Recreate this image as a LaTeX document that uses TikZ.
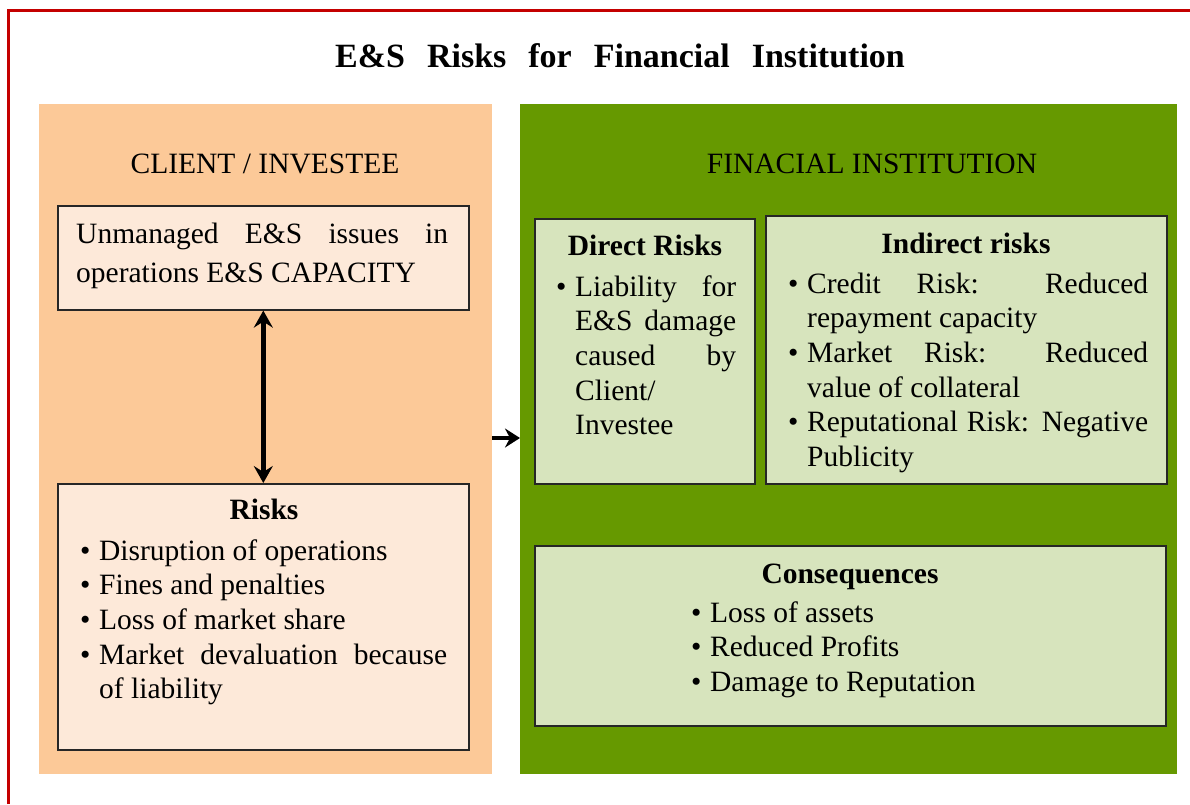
\documentclass[tikz,border=0pt]{standalone}
\usepackage{fontspec}
\setmainfont{Liberation Serif}
\usepackage{xcolor}
\definecolor{peach}{RGB}{252,201,152}
\definecolor{lpeach}{RGB}{253,233,217}
\definecolor{olive}{RGB}{102,153,0}
\definecolor{lolive}{RGB}{215,228,189}
\definecolor{dred}{RGB}{196,0,0}
\usetikzlibrary{arrows.meta}

\newcommand{\bodyfont}{\fontsize{29.5}{34.7}\selectfont\hyphenpenalty=10000 \tolerance=9999 }
\newcommand{\widefont}{\fontsize{29.5}{39}\selectfont\hyphenpenalty=10000 \tolerance=9999 }
\newcommand{\bitem}{\par\noindent\hangindent=19pt\hangafter=1\makebox[19pt][l]{\textbullet}}

\begin{document}
\begin{tikzpicture}[x=1pt,y=-1pt,
  panel/.style={rectangle,inner sep=0,anchor=north west},
  ibox/.style={rectangle,draw=black!85,line width=1.6pt,inner sep=0,anchor=north west},
  sec/.style={anchor=base,inner sep=0,font=\bodyfont},
  head/.style={anchor=base,inner sep=0,font=\bodyfont\bfseries},
  blist/.style={anchor=base west,inner sep=0,font=\bodyfont},
  arrow/.style={line width=4.5pt,-{Stealth[length=15pt,width=19pt,inset=5pt]}},
  dblarrow/.style={line width=4.5pt,
    {Stealth[length=17pt,width=19pt,inset=6pt]}-{Stealth[length=17pt,width=19pt,inset=6pt]}}
]
  \useasboundingbox (0,0) rectangle (1190,804);
  \fill[white] (0,0) rectangle (1190,804);
  % frame
  \draw[dred,line width=3pt] (8,804) -- (8,10) -- (1190,10);

  % title
  \node[anchor=base,inner sep=0,font=\fontsize{34}{40}\selectfont\bfseries] (title) at (620,67)
    {\spaceskip=22pt E\&S Risks for Financial Institution};

  % the two sides
  \node[panel,fill=peach,minimum width=453pt,minimum height=670pt] (client) at (39,104) {};
  \node[panel,fill=olive,minimum width=657pt,minimum height=670pt] (fi) at (520,104) {};
  \node[sec] (clientHead) at (265,173) {CLIENT / INVESTEE};
  \node[sec] (fiHead) at (872,173) {FINACIAL INSTITUTION};

  % client side
  \node[ibox,fill=lpeach,minimum width=411pt,minimum height=104pt] (issues) at (57,205) {};
  \node[blist,font=\widefont] (issuesText) at (76,243)
    {\parbox[t]{372pt}{Unmanaged E\&S issues in\linebreak operations E\&S CAPACITY}};
  \node[ibox,fill=lpeach,minimum width=411pt,minimum height=266pt] (risks) at (57,483) {};
  \node[head] (riskHead) at (264,519) {Risks};
  \node[blist] (riskList) at (80,560)
    {\parbox[t]{367pt}{\bitem Disruption of operations
     \bitem Fines and penalties
     \bitem Loss of market share
     \bitem Market devaluation because of liability}};
  \draw[dblarrow] (issues.south) -- (risks.north);

  % financial institution side
  \node[ibox,fill=lolive,minimum width=220pt,minimum height=265pt] (direct) at (534,218) {};
  \node[head] (directHead) at (645,255) {Direct Risks};
  \node[blist] (directList) at (556,296)
    {\parbox[t]{180pt}{\bitem Liability for E\&S damage caused by\linebreak Client/\newline Investee}};

  \node[ibox,fill=lolive,minimum width=401pt,minimum height=268pt] (indirect) at (765,215) {};
  \node[head] (indHead) at (966,253) {Indirect risks};
  \node[blist] (indList) at (788,293)
    {\parbox[t]{360pt}{\bitem Credit Risk: Reduced\linebreak repayment capacity
     \bitem Market Risk: Reduced\linebreak value of collateral
     \bitem Reputational Risk: Negative Publicity}};

  \node[ibox,fill=lolive,minimum width=631pt,minimum height=180pt] (cons) at (534,545) {};
  \node[head] (consHead) at (850,583) {Consequences};
  \node[blist] (consList) at (691,622)
    {\parbox[t]{400pt}{\raggedright\bitem Loss of assets
     \bitem Reduced Profits
     \bitem Damage to Reputation}};

  % link between the sides
  \coordinate (mid) at (0,438);
  \draw[arrow] (client.east |- mid) -- (fi.west |- mid);
\end{tikzpicture}
\end{document}
